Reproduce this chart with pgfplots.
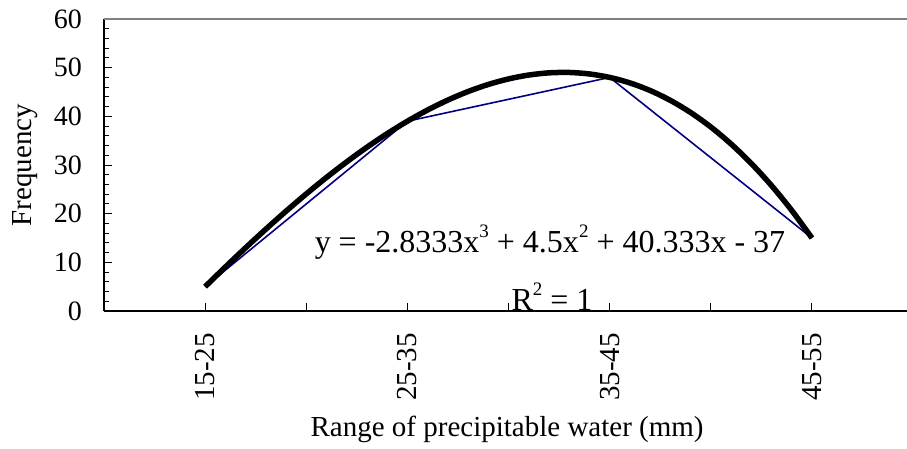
\documentclass[border=0pt]{standalone}
\usepackage{pgfplots}
\pgfplotsset{compat=1.18}
\usepackage{fontspec}
\setmainfont{Liberation Serif}
\definecolor{navyline}{RGB}{0,0,128}
\begin{document}
\begin{tikzpicture}
\begin{axis}[
  name=ax,
  at={(0,0)}, anchor=south west,
  scale only axis,
  width=803bp, height=292bp,
  xmin=0.5, xmax=4.47,
  ymin=0, ymax=60,
  axis x line*=bottom, axis y line*=left,
  axis line style={line width=1.6bp, black},
  tick align=inside,
  tick style={black, line width=1bp},
  major tick length=8bp,
  minor tick length=5bp,
  xtick={0.5,1,1.5,2,2.5,3,3.5,4},
  xticklabels={,15-25,,25-35,,35-45,,45-55},
  ytick={0,10,20,30,40,50,60},
  minor y tick num=4,
  /pgf/number format/assume math mode=true,
  yticklabel style={font=\fontsize{28bp}{32bp}\selectfont, anchor=east, inner sep=0pt, xshift=-22bp},
  xticklabel style={font=\fontsize{29bp}{32bp}\selectfont, rotate=90, anchor=east, inner sep=0pt, xshift=-22bp},
  label style={font=\fontsize{29bp}{34bp}\selectfont},
  xlabel={Range of precipitable water (mm)},
  ylabel={Frequency},
  xlabel style={at={(axis description cs:0.502,-0.4315)}, anchor=base},
  ylabel style={at={(axis description cs:-0.0984,0.5)}, anchor=center},
  clip=false,
]
\addplot[navyline, line width=1.6bp] coordinates {(1,5) (2,39) (3,48) (4,15)};
\addplot[black, line width=5.5bp, smooth] coordinates {
(1.0,5) (1.1,9.0405) (1.2,12.984) (1.3,16.8135) (1.4,20.512) (1.5,24.0625)
(1.6,27.448) (1.7,30.6515) (1.8,33.656) (1.9,36.4445) (2.0,39)
(2.1,41.3055) (2.2,43.344) (2.3,45.0985) (2.4,46.552) (2.5,47.6875)
(2.6,48.488) (2.7,48.9365) (2.8,49.016) (2.9,48.7095) (3.0,48)
(3.1,46.8705) (3.2,45.304) (3.3,43.2835) (3.4,40.792) (3.5,37.8125)
(3.6,34.328) (3.7,30.3215) (3.8,25.776) (3.9,20.6745) (4.0,15)};
\node[anchor=base, font=\fontsize{32bp}{36bp}\selectfont, inner sep=0pt] at (axis cs:2.705,12.1) {y = -2.8333x\raisebox{0.45em}{\fontsize{19bp}{20bp}\selectfont 3} + 4.5x\raisebox{0.45em}{\fontsize{19bp}{20bp}\selectfont 2} + 40.333x - 37};
\node[anchor=base, font=\fontsize{32bp}{36bp}\selectfont, inner sep=0pt] at (axis cs:2.715,0.2) {R\raisebox{0.45em}{\fontsize{19bp}{20bp}\selectfont 2} = 1};
\draw[gray, line width=1.6bp] (rel axis cs:0,1) -- (rel axis cs:1,1);
\end{axis}
\pgfresetboundingbox
\useasboundingbox (-104bp,-138bp) rectangle (803bp,311bp);
\end{tikzpicture}
\end{document}
